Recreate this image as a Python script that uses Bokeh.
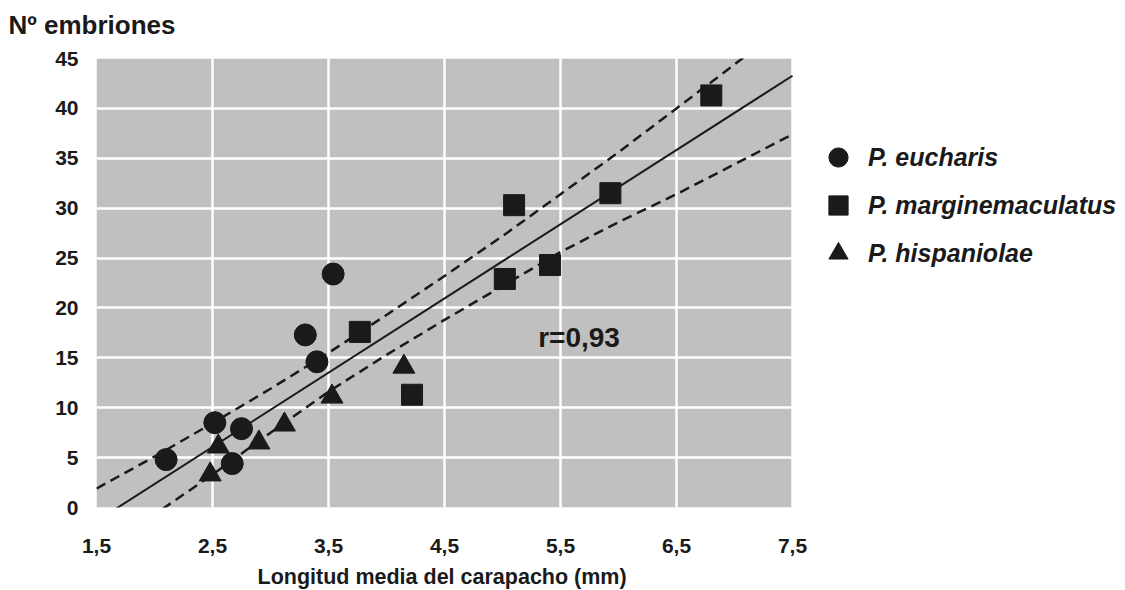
from bokeh.plotting import figure
from bokeh.models import (Range1d, FixedTicker, Legend, LegendItem, Label,
                          BoxAnnotation, Title)
from bokeh.embed import file_html
from bokeh.resources import INLINE

# ---- data ----
euch_x = [2.10, 2.52, 2.67, 2.75, 3.30, 3.40, 3.54]
euch_y = [4.8, 8.5, 4.4, 7.9, 17.3, 14.6, 23.4]

marg_x = [3.77, 4.22, 5.02, 5.10, 5.41, 5.93, 6.80]
marg_y = [17.6, 11.3, 22.9, 30.3, 24.3, 31.5, 41.3]

hisp_x = [2.48, 2.55, 2.90, 3.12, 3.53, 4.15]
hisp_y = [3.3, 6.1, 6.5, 8.3, 11.1, 14.1]

fit_x = [1.5, 7.5]
fit_y = [-1.37, 43.27]

band_x = [1.5, 2.0, 2.5, 3.0, 3.5, 4.0, 4.5, 5.0, 5.5, 6.0, 6.5, 7.0, 7.5]
band_upper = [1.9, 5.1, 8.45, 11.9, 15.5, 19.3, 23.2, 27.2, 31.4, 35.6, 40.0, 44.4, 48.9]
band_lower = [-4.7, -0.7, 3.3, 7.5, 11.6, 15.3, 18.8, 22.2, 25.6, 28.6, 31.4, 34.4, 37.4]

x_ticks = [1.5, 2.5, 3.5, 4.5, 5.5, 6.5, 7.5]
x_tick_labels = ["1,5", "2,5", "3,5", "4,5", "5,5", "6,5", "7,5"]
y_ticks = [0, 5, 10, 15, 20, 25, 30, 35, 40, 45]

series_names = ["P. eucharis", "P. marginemaculatus", "P. hispaniolae"]
r_text = "r=0,93"
y_title = "Nº embriones"
x_title = "Longitud media del carapacho (mm)"

FONT = "Liberation Sans"
INK = "#1a1a1a"
GRAY = "#c0c0c0"

X_MIN, X_MAX, Y_MIN, Y_MAX = 1.5, 7.5, 0, 45
# frame continues to the right of the gray area so the legend can live in it
X_END = X_MIN + 1029 / 116.0

p = figure(width=1125, height=590,
           x_range=Range1d(X_MIN, X_END), y_range=Range1d(Y_MIN, Y_MAX),
           output_backend="svg", toolbar_location=None,
           min_border_left=96, min_border_right=0,
           min_border_top=58, min_border_bottom=82,
           background_fill_color="white", border_fill_color="white",
           outline_line_color=None)
p.title_location = None

# gray plotting area
p.add_layout(BoxAnnotation(left=X_MIN, right=X_MAX, bottom=Y_MIN, top=Y_MAX,
                           fill_color=GRAY, fill_alpha=1.0, line_color=None,
                           level="image"))

# grid
p.xgrid.ticker = FixedTicker(ticks=x_ticks)
p.ygrid.ticker = FixedTicker(ticks=y_ticks)
for g in (p.xgrid, p.ygrid):
    g.grid_line_color = "white"
    g.grid_line_width = 2.5
    g.grid_line_alpha = 1.0

# axes
p.xaxis.ticker = FixedTicker(ticks=x_ticks)
p.xaxis.major_label_overrides = {t: l for t, l in zip(x_ticks, x_tick_labels)}
p.yaxis.ticker = FixedTicker(ticks=y_ticks)
for ax in (p.xaxis, p.yaxis):
    ax.axis_line_color = None
    ax.major_tick_line_color = None
    ax.minor_tick_line_color = None
    ax.major_label_text_font = FONT
    ax.major_label_text_font_style = "bold"
    ax.major_label_text_font_size = "21px"
    ax.major_label_text_color = INK
p.xaxis.major_label_standoff = 25
p.yaxis.major_label_standoff = 12
# tiny invisible axis label: only adds a little room above the x title
p.xaxis.axis_label = " "
p.xaxis.axis_label_text_font_size = "1px"
p.xaxis.axis_label_standoff = 1

# y quantity title at top-left (spacer keeps it clear of the frame)
p.add_layout(Title(text=" ", text_font_size="10px", standoff=6, text_color="white"), "above")
p.add_layout(Title(text=y_title, align="left", offset=-88, standoff=0,
                   text_font=FONT, text_font_style="bold", text_font_size="26px",
                   text_color=INK), "above")

# x quantity title below the tick labels, centred under the gray area
p.add_layout(Title(text=x_title, align="left", offset=161, standoff=4,
                   text_font=FONT, text_font_style="bold", text_font_size="21.5px",
                   text_color=INK), "below")

# lines
p.line(fit_x, fit_y, line_color=INK, line_width=2)
p.line(band_x, band_upper, line_color=INK, line_width=2.5, line_dash="10 6")
p.line(band_x, band_lower, line_color=INK, line_width=2.5, line_dash="10 6")

# points
r1 = p.scatter(euch_x, euch_y, marker="circle", size=22, fill_color=INK, line_color=INK)
r2 = p.scatter(marg_x, marg_y, marker="square", size=21, fill_color=INK, line_color=INK)
r3 = p.scatter(hisp_x, hisp_y, marker="triangle", size=22, fill_color=INK, line_color=INK)

# r label
p.add_layout(Label(x=5.66, y=17.0, text=r_text, text_font=FONT, text_font_style="bold",
                   text_font_size="28px", text_color=INK,
                   text_align="center", text_baseline="middle"))

legend = Legend(items=[LegendItem(label=series_names[0], renderers=[r1]),
                       LegendItem(label=series_names[1], renderers=[r2]),
                       LegendItem(label=series_names[2], renderers=[r3])],
                location=(716, 230), margin=0, padding=0, spacing=0,
                glyph_width=52, glyph_height=48, label_standoff=4,
                label_text_font=FONT, label_text_font_style="bold italic",
                label_text_font_size="25px", label_text_color=INK,
                border_line_color=None, background_fill_alpha=0)
p.add_layout(legend, "center")

open("out.html", "w").write(file_html(p, INLINE))
